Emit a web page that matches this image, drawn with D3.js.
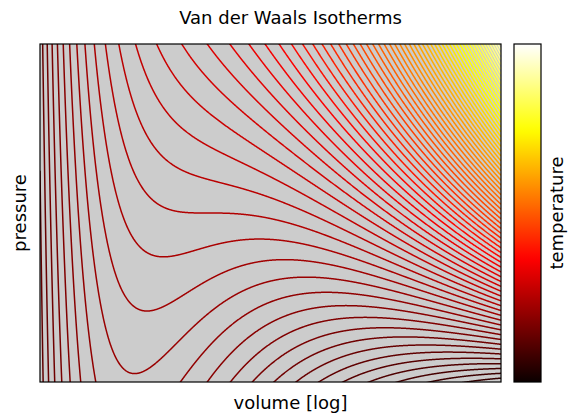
<!DOCTYPE html>
<html>
<head>
<meta charset="utf-8">
<script src="https://cdn.jsdelivr.net/npm/d3@7"></script>
<style>
  html, body { margin: 0; padding: 0; background: #ffffff; }
  svg text { font-family: "DejaVu Sans", sans-serif; fill: #000; }
</style>
</head>
<body>
<svg id="chart" width="576" height="414"></svg>
<script>
// ---- data (reduced van der Waals units: Tc = Pc = Vc = 1) ----
const titleText = "Van der Waals Isotherms";
const xLabel = "volume [log]";
const yLabel = "pressure";
const cbLabel = "temperature";
const volumeDomain = [0.4, 5];      // log axis
const pressureDomain = [0, 2];
const temperatureDomain = [0, 4];   // colour normalisation
// isotherm temperatures (levels)
const temperatures = [
  0.25, 0.30, 0.35, 0.40, 0.45, 0.50, 0.55, 0.60, 0.65, 0.70,
  0.75, 0.80, 0.85, 0.90, 0.95, 1.00, 1.05, 1.10, 1.15, 1.20,
  1.25, 1.30, 1.35, 1.40, 1.45, 1.50, 1.55, 1.60, 1.65, 1.70,
  1.75, 1.80, 1.85, 1.90, 1.95, 2.00, 2.05, 2.10, 2.15, 2.20,
  2.25, 2.30, 2.35, 2.40, 2.45, 2.50, 2.55, 2.60, 2.65, 2.70,
  2.75, 2.80, 2.85, 2.90, 2.95, 3.00, 3.05, 3.10, 3.15, 3.20,
  3.25, 3.30, 3.35, 3.40, 3.45, 3.50, 3.55, 3.60, 3.65, 3.70,
  3.75, 3.80, 3.85, 3.90
];
// matplotlib "hot" colormap stops
const hotStops = [0, 0.365079, 0.746032, 1];
const hotColors = ["#0b0000", "#ff0000", "#ffff00", "#ffffff"];

// van der Waals equation in reduced form
function vdwPressure(V, T) { return 8 * T / (3 * V - 1) - 3 / (V * V); }

// ---- layout ----
const svg = d3.select("#chart");
const plot = { left: 40, top: 44, right: 501, bottom: 382 };
const cb = { left: 514, right: 541 };
const textCenter = (plot.left + cb.right) / 2;

const x = d3.scaleLog().domain(volumeDomain).range([plot.left, plot.right]);
const y = d3.scaleLinear().domain(pressureDomain).range([plot.bottom, plot.top]);
const hot = d3.scaleLinear().domain(hotStops).range(hotColors).clamp(true);
const tNorm = d3.scaleLinear().domain(temperatureDomain).range([0, 1]).clamp(true);

// plot background
svg.append("rect")
  .attr("x", plot.left).attr("y", plot.top)
  .attr("width", plot.right - plot.left).attr("height", plot.bottom - plot.top)
  .attr("fill", "#cccccc");

svg.append("clipPath").attr("id", "clip")
  .append("rect")
  .attr("x", plot.left).attr("y", plot.top)
  .attr("width", plot.right - plot.left).attr("height", plot.bottom - plot.top);

// sample volumes along the log axis (pixel-resolution sampling)
const nSamples = 1400;
const lv0 = Math.log(volumeDomain[0]), lv1 = Math.log(volumeDomain[1]);
const volumes = d3.range(nSamples + 1).map(i => Math.exp(lv0 + (lv1 - lv0) * i / nSamples));

const line = d3.line()
  .x(d => x(d[0]))
  .y(d => y(Math.max(-20, Math.min(22, d[1]))));

const g = svg.append("g").attr("clip-path", "url(#clip)");
g.selectAll("path.iso")
  .data(temperatures)
  .join("path")
  .attr("class", "iso")
  .attr("d", T => line(volumes.map(V => [V, vdwPressure(V, T)])))
  .attr("fill", "none")
  .attr("stroke", T => hot(tNorm(T)))
  .attr("stroke-width", 1.5);

// frame
svg.append("rect")
  .attr("x", plot.left).attr("y", plot.top)
  .attr("width", plot.right - plot.left).attr("height", plot.bottom - plot.top)
  .attr("fill", "none").attr("stroke", "#000").attr("stroke-width", 1.2);

// colorbar
const defs = svg.append("defs");
const grad = defs.append("linearGradient").attr("id", "hotgrad")
  .attr("x1", "0%").attr("y1", "100%").attr("x2", "0%").attr("y2", "0%");
d3.range(0, 1.0001, 0.02).forEach(t => {
  grad.append("stop").attr("offset", (t * 100) + "%").attr("stop-color", hot(t));
});
svg.append("rect")
  .attr("x", cb.left).attr("y", plot.top)
  .attr("width", cb.right - cb.left).attr("height", plot.bottom - plot.top)
  .attr("fill", "url(#hotgrad)")
  .attr("stroke", "#000").attr("stroke-width", 1.2);

// texts
svg.append("text")
  .attr("x", textCenter).attr("y", 24)
  .attr("text-anchor", "middle").attr("font-size", 18).text(titleText);
svg.append("text")
  .attr("x", textCenter).attr("y", 409)
  .attr("text-anchor", "middle").attr("font-size", 18).text(xLabel);
svg.append("text")
  .attr("transform", `translate(26,${(plot.top + plot.bottom) / 2}) rotate(-90)`)
  .attr("text-anchor", "middle").attr("font-size", 18).text(yLabel);
svg.append("text")
  .attr("transform", `translate(563,${(plot.top + plot.bottom) / 2}) rotate(-90)`)
  .attr("text-anchor", "middle").attr("font-size", 18).text(cbLabel);
</script>
</body>
</html>
